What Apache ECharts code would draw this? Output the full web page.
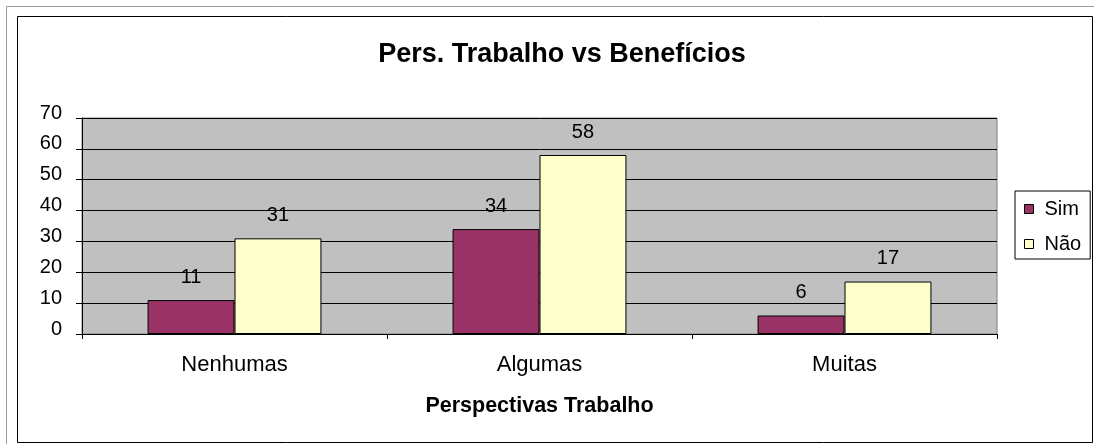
<!DOCTYPE html>
<html>
<head>
<meta charset="utf-8">
<script src="https://cdn.jsdelivr.net/npm/echarts@6/dist/echarts.min.js"></script>
<style>
  html, body { margin: 0; padding: 0; background: #ffffff; }
  #chart { width: 1094px; height: 444px; }
</style>
</head>
<body>
<div id="chart"></div>
<script>
// Categories and counts per answer
const categories = ['Nenhumas', 'Algumas', 'Muitas'];
const simValues = [11, 34, 6];
const naoValues = [31, 58, 17];
const yTicks = { min: 0, max: 70, interval: 10 };

const FONT = '"Liberation Sans", Arial, sans-serif';

const chart = echarts.init(document.getElementById('chart'), null, { renderer: 'canvas' });

const barLabel = {
  show: true,
  position: 'top',
  distance: 13,
  color: '#000',
  fontSize: 20,
  fontFamily: FONT
};

chart.setOption({
  backgroundColor: '#ffffff',
  animation: false,
  title: {
    text: 'Pers. Trabalho vs Benefícios',
    left: 557,
    top: 36,
    textAlign: 'center',
    textStyle: { fontFamily: FONT, fontSize: 27, fontWeight: 'bold', color: '#000' }
  },
  graphic: [
    { type: 'rect', shape: { x: 6.5, y: 6.5, width: 1200, height: 600 },
      style: { fill: 'none', stroke: '#9a9a9a', lineWidth: 1 }, silent: true, z: -1 },
    { type: 'rect', shape: { x: 17.5, y: 16.5, width: 1075, height: 426 },
      style: { fill: 'none', stroke: '#000', lineWidth: 1 }, silent: true, z: -1 }
  ],
  legend: {
    orient: 'vertical',
    left: 1015,
    top: 191,
    itemWidth: 9,
    itemHeight: 9,
    itemGap: 15,
    padding: [8, 9, 5, 9],
    icon: 'rect',
    borderColor: '#000',
    borderWidth: 1,
    backgroundColor: '#fff',
    textStyle: { fontFamily: FONT, fontSize: 20, lineHeight: 20, color: '#000', padding: [0, 0, 0, 6] },
    data: [
      { name: 'Sim', itemStyle: { borderColor: '#000', borderWidth: 1 } },
      { name: 'Não', itemStyle: { borderColor: '#000', borderWidth: 1 } }
    ]
  },
  grid: {
    left: 82,
    right: 97,
    top: 118,
    bottom: 110,
    show: true,
    backgroundColor: '#c0c0c0',
    borderColor: '#808080',
    borderWidth: 1
  },
  xAxis: {
    type: 'category',
    data: categories,
    boundaryGap: true,
    axisLine: { show: true, lineStyle: { color: '#000', width: 1 } },
    axisTick: { show: true, length: 5, alignWithLabel: false, lineStyle: { color: '#000' } },
    axisLabel: { margin: 20, color: '#000', fontSize: 22, fontFamily: FONT },
    name: 'Perspectivas Trabalho',
    nameLocation: 'middle',
    nameGap: 61,
    nameTextStyle: { fontFamily: FONT, fontSize: 21.5, fontWeight: 'bold', color: '#000' }
  },
  yAxis: {
    type: 'value',
    min: yTicks.min,
    max: yTicks.max,
    interval: yTicks.interval,
    axisLine: { show: true, lineStyle: { color: '#000', width: 1 } },
    axisTick: { show: true, length: 6, lineStyle: { color: '#000' } },
    axisLabel: { margin: 20, color: '#000', fontSize: 20, fontFamily: FONT, verticalAlign: 'bottom', lineHeight: 10 },
    splitLine: { show: true, lineStyle: { color: '#000', width: 1 } }
  },
  series: [
    {
      name: 'Sim',
      type: 'bar',
      data: simValues,
      barGap: '0%',
      barCategoryGap: '43%',
      itemStyle: { color: '#993366', borderColor: '#000', borderWidth: 1 },
      label: barLabel
    },
    {
      name: 'Não',
      type: 'bar',
      data: naoValues,
      itemStyle: { color: '#ffffcc', borderColor: '#000', borderWidth: 1 },
      label: barLabel
    }
  ]
});
</script>
</body>
</html>
